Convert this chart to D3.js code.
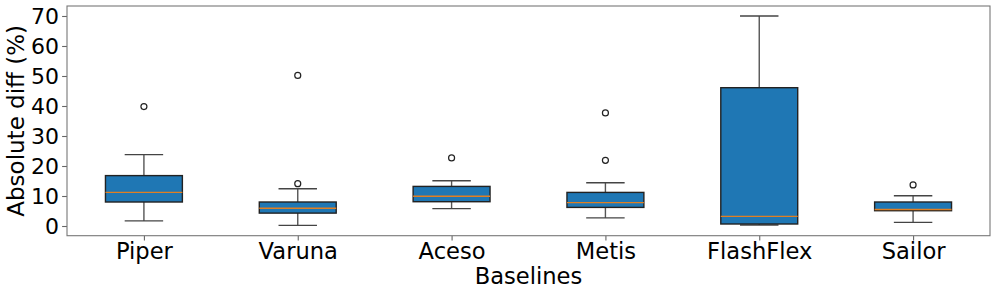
<!DOCTYPE html>
<html>
<head>
<meta charset="utf-8">
<script src="https://cdn.jsdelivr.net/npm/d3@7"></script>
<style>
  body { margin: 0; background: #fff; }
  svg text { font-family: "DejaVu Sans", sans-serif; fill: #000; }
</style>
</head>
<body>
<div id="chart"></div>
<script>
// box summaries (%)
const categories = ['Piper', 'Varuna', 'Aceso', 'Metis', 'FlashFlex', 'Sailor'];
const whiskerLow = [1.7, 0.2, 5.8, 2.7, 0.33, 1.2];
const q1 = [8.0, 4.3, 8.1, 6.2, 0.67, 5.1];
const median = [11.2, 5.9, 9.9, 7.8, 3.2, 5.5];
const q3 = [16.8, 8.0, 13.2, 11.2, 46.1, 8.0];
const whiskerHigh = [23.8, 12.4, 15.1, 14.4, 70.0, 10.1];
const outliers = [[39.8], [50.2, 14.1], [22.7], [37.7, 21.9], [], [13.7]];
const yTicks = [0, 10, 20, 30, 40, 50, 60, 70];

const width = 997, height = 296;
const plotLeft = 67, plotRight = 990, plotTop = 6, plotBottom = 235.7;

const svg = d3.select('#chart')
  .append('svg')
  .attr('width', width)
  .attr('height', height);

const x = d3.scalePoint()
  .domain(categories)
  .range([plotLeft, plotRight])
  .padding(0.5);

const y = d3.scaleLinear()
  .domain([-3.23, 73.33])
  .range([plotBottom, plotTop]);

const boxW = x.step() * 0.5;
const capW = boxW * 0.5;

const boxes = categories.map((c, i) => ({
  name: c, lo: whiskerLow[i], q1: q1[i], med: median[i], q3: q3[i], hi: whiskerHigh[i], out: outliers[i]
}));

const g = svg.selectAll('g.box')
  .data(boxes)
  .enter()
  .append('g')
  .attr('class', 'box');

// whiskers
g.append('line')
  .attr('x1', d => x(d.name)).attr('x2', d => x(d.name))
  .attr('y1', d => y(d.q3)).attr('y2', d => y(d.hi))
  .attr('stroke', '#555').attr('stroke-width', 1.4);
g.append('line')
  .attr('x1', d => x(d.name)).attr('x2', d => x(d.name))
  .attr('y1', d => y(d.q1)).attr('y2', d => y(d.lo))
  .attr('stroke', '#555').attr('stroke-width', 1.4);
// caps
g.selectAll('line.cap')
  .data(d => [{ n: d.name, v: d.hi }, { n: d.name, v: d.lo }])
  .enter()
  .append('line')
  .attr('class', 'cap')
  .attr('x1', d => x(d.n) - capW / 2).attr('x2', d => x(d.n) + capW / 2)
  .attr('y1', d => y(d.v)).attr('y2', d => y(d.v))
  .attr('stroke', '#444').attr('stroke-width', 1.4);

// boxes
g.append('rect')
  .attr('x', d => x(d.name) - boxW / 2)
  .attr('y', d => y(d.q3))
  .attr('width', boxW)
  .attr('height', d => y(d.q1) - y(d.q3))
  .attr('fill', '#1f77b4')
  .attr('stroke', '#222')
  .attr('stroke-width', 1.4);

// medians
g.append('line')
  .attr('x1', d => x(d.name) - boxW / 2).attr('x2', d => x(d.name) + boxW / 2)
  .attr('y1', d => y(d.med)).attr('y2', d => y(d.med))
  .attr('stroke', '#e07f22').attr('stroke-width', 1.4);

// fliers
g.selectAll('circle')
  .data(d => d.out.map(v => ({ n: d.name, v })))
  .enter()
  .append('circle')
  .attr('cx', d => x(d.n))
  .attr('cy', d => y(d.v))
  .attr('r', 3)
  .attr('fill', 'none')
  .attr('stroke', '#222')
  .attr('stroke-width', 1.2);

// axes
const yAxis = svg.append('g')
  .attr('transform', `translate(${plotLeft},0)`)
  .call(d3.axisLeft(y).tickValues(yTicks).tickSize(4.9).tickPadding(3));
const xAxis = svg.append('g')
  .attr('transform', `translate(0,${plotBottom})`)
  .call(d3.axisBottom(x).tickSize(4.9).tickPadding(2.3));

[yAxis, xAxis].forEach(a => {
  a.select('.domain').remove();
  a.selectAll('line').attr('stroke', '#666').attr('stroke-width', 1.1);
  a.selectAll('text').attr('font-family', '"DejaVu Sans", sans-serif').attr('fill', '#000');
});
yAxis.selectAll('text').attr('font-size', 22);
xAxis.selectAll('text').attr('font-size', 22.6);

// frame
svg.append('rect')
  .attr('x', plotLeft).attr('y', plotTop)
  .attr('width', plotRight - plotLeft).attr('height', plotBottom - plotTop)
  .attr('fill', 'none')
  .attr('stroke', '#777')
  .attr('stroke-width', 1.1);

svg.append('text')
  .attr('transform', 'rotate(-90)')
  .attr('x', -(plotTop + plotBottom) / 2)
  .attr('y', 23.5)
  .attr('text-anchor', 'middle')
  .attr('font-size', 23)
  .text('Absolute diff (%)');

svg.append('text')
  .attr('x', (plotLeft + plotRight) / 2)
  .attr('y', 284)
  .attr('text-anchor', 'middle')
  .attr('font-size', 22.6)
  .text('Baselines');
</script>
</body>
</html>
